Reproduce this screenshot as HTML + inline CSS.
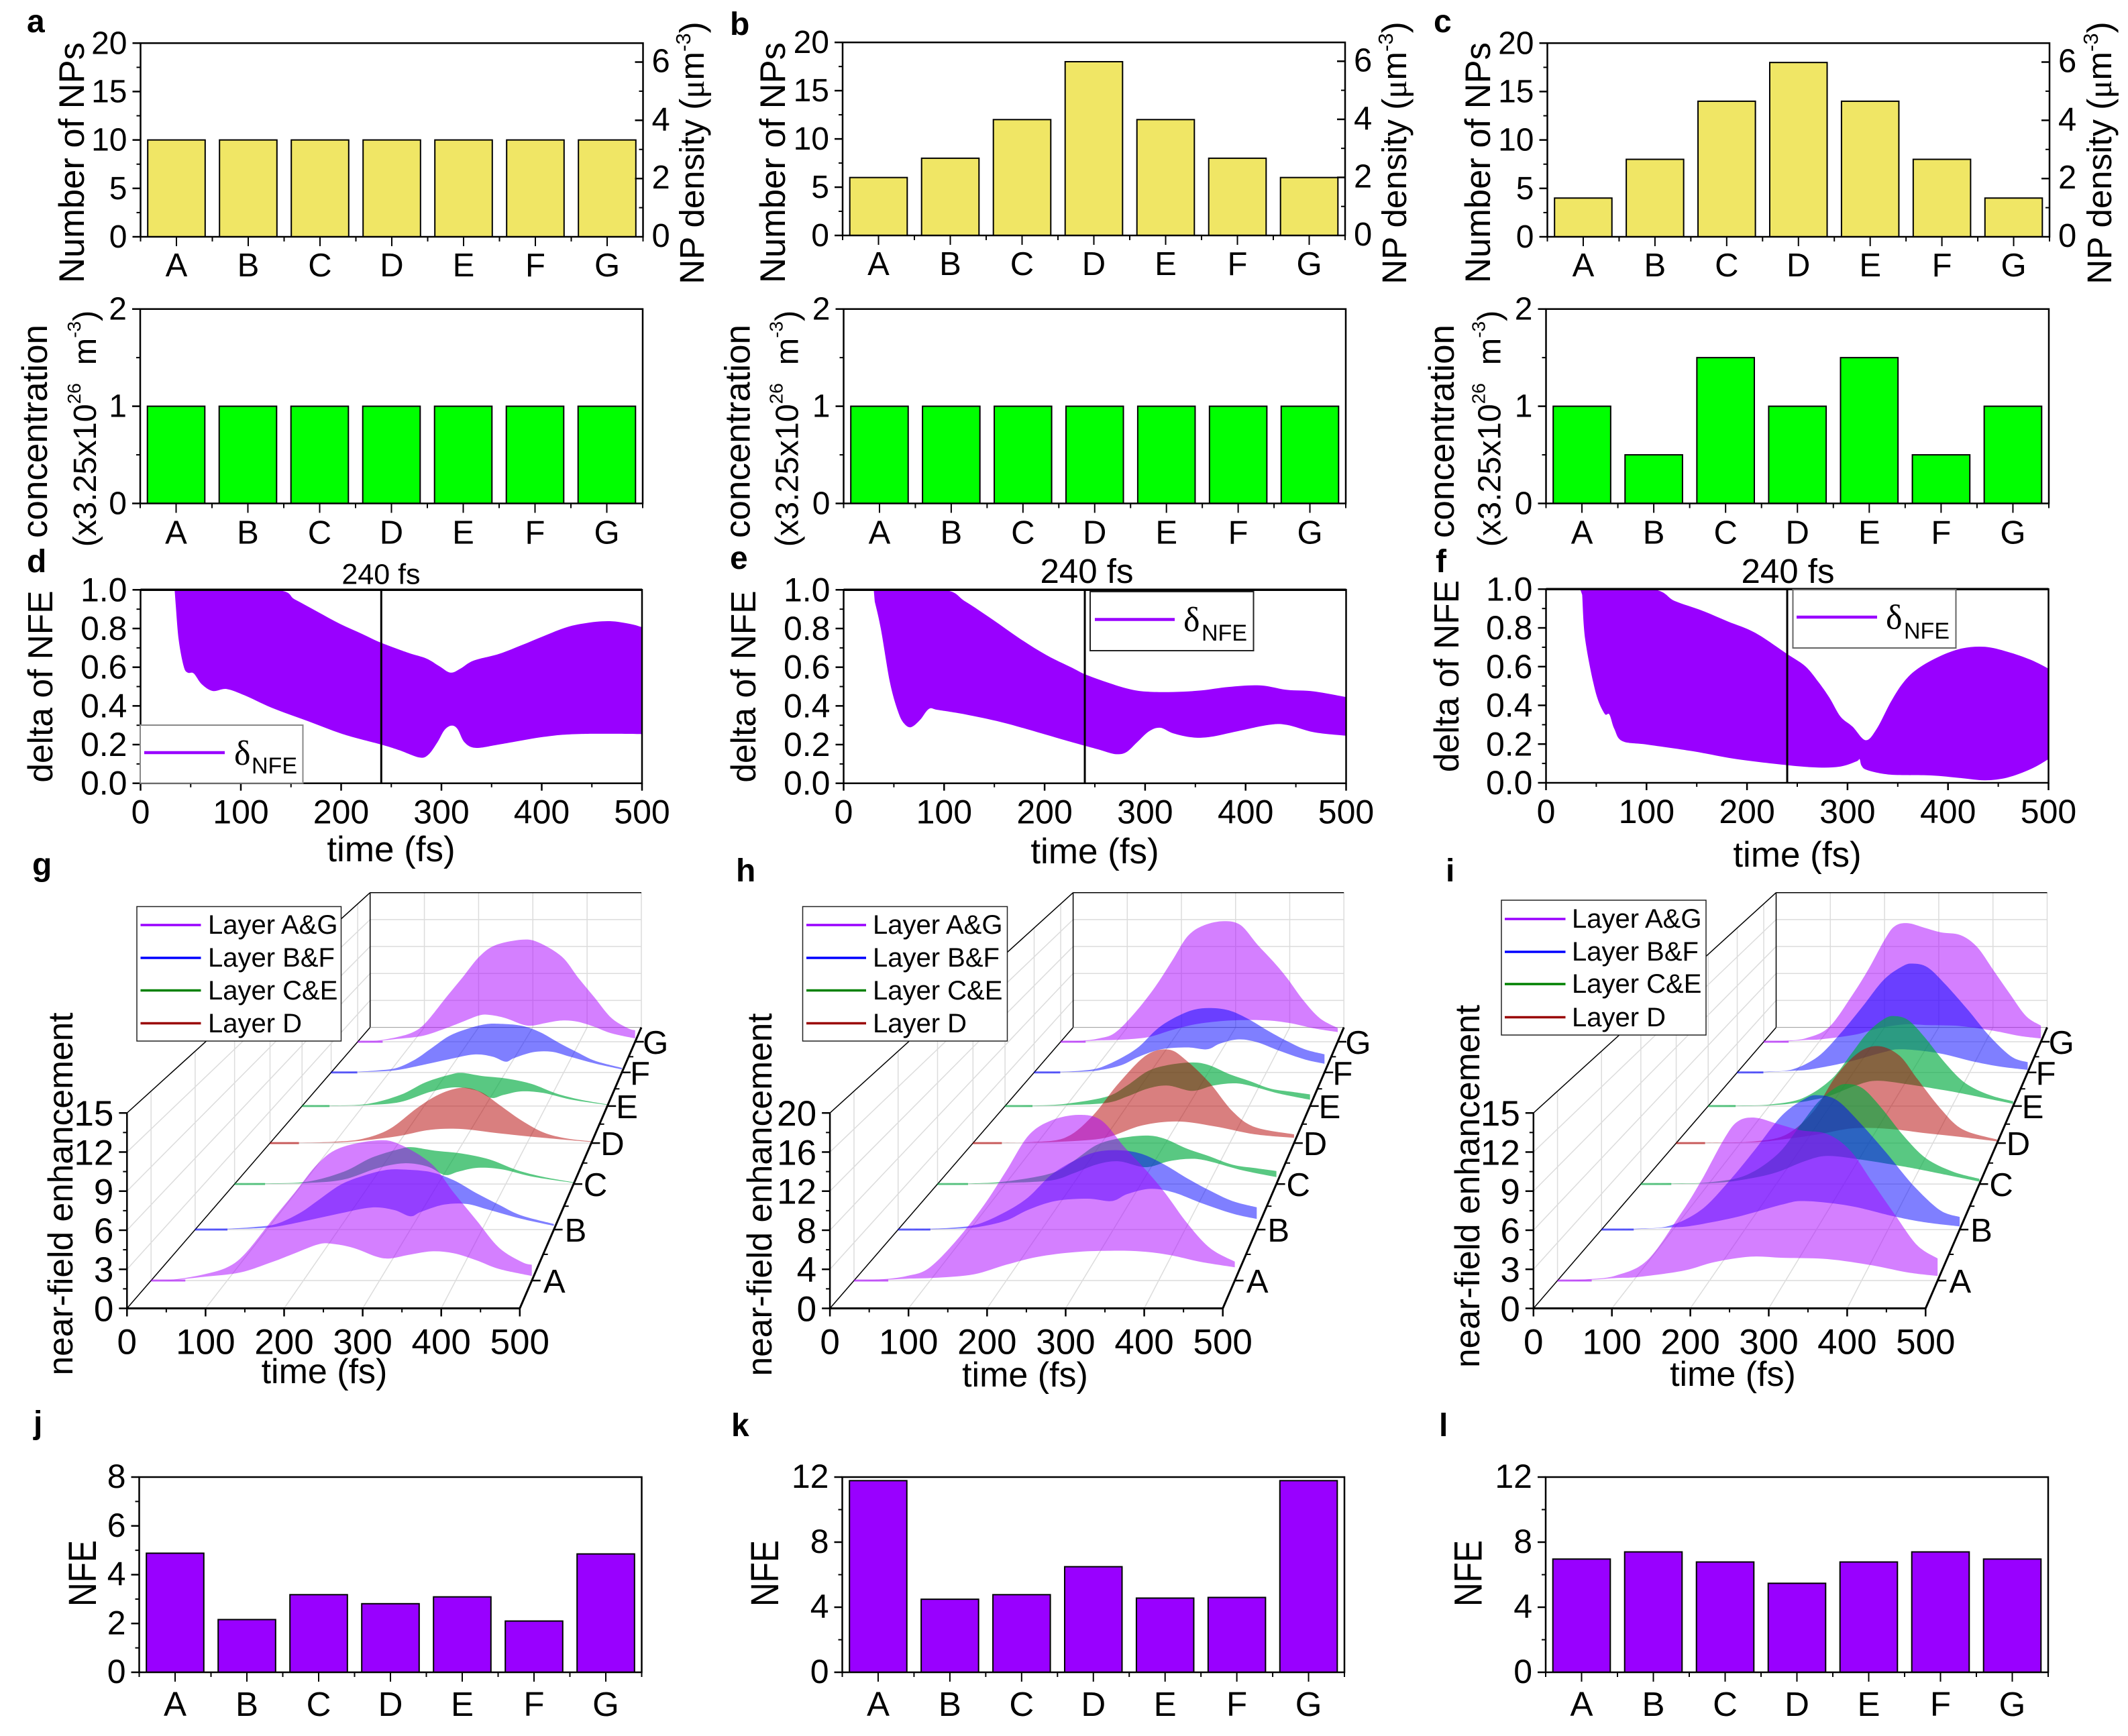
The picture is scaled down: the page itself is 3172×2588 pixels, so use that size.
<!DOCTYPE html>
<html lang="en">
<head>
<meta charset="utf-8">
<title>Nanoparticle layer near-field enhancement figure</title>
<style>
html,body{margin:0;padding:0;background:#fff;overflow:hidden;}
svg{display:block;font-family:"Liberation Sans",sans-serif;fill:#000;}
.serif{font-family:"Liberation Serif",serif;}
</style>
</head>
<body>
<svg id="fig" xmlns="http://www.w3.org/2000/svg" width="3172" height="2588" viewBox="0 0 3172 2588">
<rect width="3172" height="2588" fill="#fff"/>

<!-- panel letters -->
<g font-weight="bold" font-size="48">
<text x="40" y="48">a</text>
<text x="1088" y="52">b</text>
<text x="2137" y="48">c</text>
<text x="40" y="853">d</text>
<text x="1088" y="848">e</text>
<text x="2140" y="853">f</text>
<text x="48" y="1305">g</text>
<text x="1097" y="1314">h</text>
<text x="2155" y="1314">i</text>
<text x="50" y="2137">j</text>
<text x="1090" y="2141">k</text>
<text x="2145" y="2141">l</text>
</g>

<!-- number-of-NPs panels -->
<g id="panel-a">
<text transform="translate(125,242.5) rotate(-90)" font-size="52.5" text-anchor="middle">Number of NPs</text>
<text transform="translate(1049,228) rotate(-90)" font-size="51" text-anchor="middle">NP density (<tspan class="serif">μ</tspan>m<tspan font-size="31" dy="-20">-3</tspan><tspan dy="20">)</tspan></text>
</g>
<g id="panel-b">
<text transform="translate(1170,242.5) rotate(-90)" font-size="52.5" text-anchor="middle">Number of NPs</text>
<text transform="translate(2096,228) rotate(-90)" font-size="51" text-anchor="middle">NP density (<tspan class="serif">μ</tspan>m<tspan font-size="31" dy="-20">-3</tspan><tspan dy="20">)</tspan></text>
</g>
<g id="panel-c">
<text transform="translate(2221,242.5) rotate(-90)" font-size="52.5" text-anchor="middle">Number of NPs</text>
<text transform="translate(3147,228) rotate(-90)" font-size="51" text-anchor="middle">NP density (<tspan class="serif">μ</tspan>m<tspan font-size="31" dy="-20">-3</tspan><tspan dy="20">)</tspan></text>
</g>

<!-- concentration panels -->
<g id="panel-conc-a">
<text transform="translate(70,643) rotate(-90)" font-size="53" text-anchor="middle">concentration</text>
<text transform="translate(143,639) rotate(-90)" font-size="48.5" text-anchor="middle">(x3.25x10<tspan font-size="28" dy="-23">26</tspan><tspan dy="23">&#160;&#160;m</tspan><tspan font-size="28" dy="-23">-3</tspan><tspan dy="23">)</tspan></text>
</g>
<g id="panel-conc-b">
<text transform="translate(1117.5,643) rotate(-90)" font-size="53" text-anchor="middle">concentration</text>
<text transform="translate(1189.5,639) rotate(-90)" font-size="48.5" text-anchor="middle">(x3.25x10<tspan font-size="28" dy="-23">26</tspan><tspan dy="23">&#160;&#160;m</tspan><tspan font-size="28" dy="-23">-3</tspan><tspan dy="23">)</tspan></text>
</g>
<g id="panel-conc-c">
<text transform="translate(2167,643) rotate(-90)" font-size="53" text-anchor="middle">concentration</text>
<text transform="translate(2236.5,639) rotate(-90)" font-size="48.5" text-anchor="middle">(x3.25x10<tspan font-size="28" dy="-23">26</tspan><tspan dy="23">&#160;&#160;m</tspan><tspan font-size="28" dy="-23">-3</tspan><tspan dy="23">)</tspan></text>
</g>

<!-- delta panels -->
<g id="panel-d">
<g id="panel-d-marks"></g>
<text transform="translate(78,1023.5) rotate(-90)" font-size="51.5" text-anchor="middle">delta of NFE</text>
<text x="568" y="870.5" font-size="43" text-anchor="middle">240 fs</text>
<text x="583" y="1284" font-size="53" text-anchor="middle">time (fs)</text>
<g>
<rect x="209" y="1081" width="242.5" height="86.5" fill="#fff" stroke="#888" stroke-width="2"/>
<line x1="215" x2="335" y1="1122" y2="1122" stroke="#9900ff" stroke-width="4.5"/>
<text x="349" y="1140" font-size="52" class="serif">δ</text>
<text x="375" y="1153" font-size="34">NFE</text>
</g>
</g>
<g id="panel-e">
<g id="panel-e-marks"></g>
<text transform="translate(1126,1023.5) rotate(-90)" font-size="51.5" text-anchor="middle">delta of NFE</text>
<text x="1620" y="869" font-size="51" text-anchor="middle">240 fs</text>
<text x="1632" y="1287" font-size="53" text-anchor="middle">time (fs)</text>
<g>
<rect x="1625" y="882" width="243.5" height="88" fill="#fff" stroke="#222" stroke-width="2"/>
<line x1="1632" x2="1751" y1="923.5" y2="923.5" stroke="#9900ff" stroke-width="4.5"/>
<text x="1764" y="941" font-size="52" class="serif">δ</text>
<text x="1791" y="955" font-size="34">NFE</text>
</g>
</g>
<g id="panel-f">
<g id="panel-f-marks"></g>
<text transform="translate(2174,1008) rotate(-90)" font-size="51.5" text-anchor="middle">delta of NFE</text>
<text x="2665" y="869" font-size="51" text-anchor="middle">240 fs</text>
<text x="2679" y="1292" font-size="53" text-anchor="middle">time (fs)</text>
<g>
<rect x="2672.5" y="879" width="243" height="87" fill="#fff" stroke="#666" stroke-width="2"/>
<line x1="2678" x2="2798" y1="920" y2="920" stroke="#9900ff" stroke-width="4.5"/>
<text x="2811" y="937.5" font-size="52" class="serif">δ</text>
<text x="2838" y="952" font-size="34">NFE</text>
</g>
</g>

<!-- 3D panels -->
<g id="panel-g">
<g id="panel-g-marks"></g>
<text transform="translate(108,1780) rotate(-90)" font-size="51.5" text-anchor="middle">near-field enhancement</text>
<text x="483.5" y="2062" font-size="52" text-anchor="middle">time (fs)</text>
<g font-size="40">
<rect x="204" y="1351.5" width="304.5" height="200.5" fill="#fff" stroke="#222" stroke-width="1.5"/>
<line x1="209.5" x2="299.5" y1="1379" y2="1379" stroke="#9900ff" stroke-width="3.5"/>
<text x="310" y="1392">Layer A&amp;G</text>
<line x1="209.5" x2="299.5" y1="1428" y2="1428" stroke="#0000ff" stroke-width="3.5"/>
<text x="310" y="1441">Layer B&amp;F</text>
<line x1="209.5" x2="299.5" y1="1476.5" y2="1476.5" stroke="#008000" stroke-width="3.5"/>
<text x="310" y="1490">Layer C&amp;E</text>
<line x1="209.5" x2="299.5" y1="1525.5" y2="1525.5" stroke="#990000" stroke-width="3.5"/>
<text x="310" y="1539">Layer D</text>
</g>
</g>
<g id="panel-h">
<g id="panel-h-marks"></g>
<text transform="translate(1150,1781) rotate(-90)" font-size="51.5" text-anchor="middle">near-field enhancement</text>
<text x="1528" y="2067" font-size="52" text-anchor="middle">time (fs)</text>
<g font-size="40">
<rect x="1196.5" y="1351.5" width="305" height="200.5" fill="#fff" stroke="#222" stroke-width="1.5"/>
<line x1="1202" x2="1291" y1="1379" y2="1379" stroke="#9900ff" stroke-width="3.5"/>
<text x="1301" y="1392">Layer A&amp;G</text>
<line x1="1202" x2="1291" y1="1428" y2="1428" stroke="#0000ff" stroke-width="3.5"/>
<text x="1301" y="1441">Layer B&amp;F</text>
<line x1="1202" x2="1291" y1="1476.5" y2="1476.5" stroke="#008000" stroke-width="3.5"/>
<text x="1301" y="1490">Layer C&amp;E</text>
<line x1="1202" x2="1291" y1="1525.5" y2="1525.5" stroke="#990000" stroke-width="3.5"/>
<text x="1301" y="1539">Layer D</text>
</g>
</g>
<g id="panel-i">
<g id="panel-i-marks"></g>
<text transform="translate(2205,1768.5) rotate(-90)" font-size="51.5" text-anchor="middle">near-field enhancement</text>
<text x="2583" y="2066" font-size="52" text-anchor="middle">time (fs)</text>
<g font-size="40">
<rect x="2238" y="1342" width="305" height="201" fill="#fff" stroke="#222" stroke-width="1.5"/>
<line x1="2243" x2="2333.5" y1="1370" y2="1370" stroke="#9900ff" stroke-width="3.5"/>
<text x="2343" y="1383">Layer A&amp;G</text>
<line x1="2243" x2="2333.5" y1="1419" y2="1419" stroke="#0000ff" stroke-width="3.5"/>
<text x="2343" y="1432">Layer B&amp;F</text>
<line x1="2243" x2="2333.5" y1="1467" y2="1467" stroke="#008000" stroke-width="3.5"/>
<text x="2343" y="1480">Layer C&amp;E</text>
<line x1="2243" x2="2333.5" y1="1516.5" y2="1516.5" stroke="#990000" stroke-width="3.5"/>
<text x="2343" y="1530">Layer D</text>
</g>
</g>

<!-- NFE panels -->
<g id="panel-j">
<text transform="translate(143,2345.5) rotate(-90)" font-size="58" text-anchor="middle" textLength="99" lengthAdjust="spacingAndGlyphs">NFE</text>
</g>
<g id="panel-k">
<text transform="translate(1160,2345.5) rotate(-90)" font-size="58" text-anchor="middle" textLength="99" lengthAdjust="spacingAndGlyphs">NFE</text>
</g>
<g id="panel-l">
<text transform="translate(2208.5,2345.5) rotate(-90)" font-size="58" text-anchor="middle" textLength="99" lengthAdjust="spacingAndGlyphs">NFE</text>
</g>
</svg>

<script>
/* ---------- bar chart data ---------- */
const categories = ['A','B','C','D','E','F','G'];
const npsA = [10,10,10,10,10,10,10];
const npsB = [6,8,12,18,12,8,6];
const npsC = [4,8,14,18,14,8,4];
const concA = [1,1,1,1,1,1,1];
const concB = [1,1,1,1,1,1,1];
const concC = [1,0.5,1.5,1,1.5,0.5,1];
const nfeJ = [4.88,2.16,3.18,2.81,3.09,2.1,4.85];
const nfeK = [11.78,4.49,4.77,6.49,4.56,4.6,11.78];
const nfeL = [6.96,7.4,6.78,5.47,6.78,7.4,6.96];
const npsTicks = [0,5,10,15,20];
const npsMinorTicks = [2.5,7.5,12.5,17.5];
const densityTicks = [0,2,4,6];
const densityMinorTicks = [1,3,5];
const densityMax = 6.65;
const concTicks = [0,1,2];
const concMinorTicks = [0.5,1.5];
const nfeTicksJ = [0,2,4,6,8];
const nfeMinorTicksJ = [1,3,5,7];
const nfeTicksKL = [0,4,8,12];
const nfeMinorTicksKL = [2,6,10];

/* ---------- delta of NFE envelopes (upper / lower edge of the fast oscillation) ---------- */
const timeTicks = [0,100,200,300,400,500];
const timeMinorTicks = [50,150,250,350,450];
const deltaTicks = [0,0.2,0.4,0.6,0.8,1];
const deltaMinorTicks = [0.1,0.3,0.5,0.7,0.9];
const markerTime = 240;
const dUpperT = [34,133,154,176,199,221,240,267,285,298,309,319,332,357,380,402,425,447,468,488,500];
const dUpperV = [1,1,0.95,0.888,0.824,0.772,0.726,0.674,0.645,0.605,0.572,0.593,0.634,0.668,0.714,0.761,0.807,0.83,0.838,0.824,0.807];
const dLowerT = [35,38,43,47,53,61,72,86,104,131,167,203,240,258,278,287,296,303,310,316,323,334,357,402,438,500];
const dLowerV = [0.928,0.743,0.605,0.572,0.568,0.512,0.477,0.487,0.454,0.39,0.321,0.252,0.2,0.171,0.133,0.148,0.212,0.275,0.298,0.281,0.212,0.183,0.2,0.24,0.255,0.255];
const eUpperT = [30,99,121,148,175,202,229,240,261,283,301,328,356,383,414,441,468,500];
const eUpperV = [1,1,0.94,0.847,0.749,0.662,0.593,0.564,0.524,0.489,0.474,0.472,0.48,0.498,0.506,0.483,0.475,0.446];
const eLowerT = [31,37,46,54,60,67,76,85,94,121,157,193,220,240,256,270,281,292,304,315,328,347,365,392,423,441,468,500];
const eLowerV = [0.94,0.8,0.524,0.373,0.31,0.29,0.327,0.385,0.379,0.356,0.316,0.264,0.223,0.194,0.171,0.151,0.16,0.212,0.269,0.287,0.258,0.237,0.24,0.269,0.302,0.302,0.264,0.246];
const fUpperT = [34,105,128,155,181,208,240,258,271,282,293,305,318,329,343,356,370,392,414,437,459,482,500];
const fUpperV = [1,1,0.939,0.89,0.833,0.775,0.665,0.602,0.521,0.44,0.342,0.29,0.22,0.278,0.417,0.521,0.59,0.654,0.694,0.702,0.677,0.636,0.59];
const fLowerT = [36,39,49,58,63,68,76,101,146,190,240,271,293,309,312,314,320,343,383,414,437,459,482,500];
const fLowerV = [0.971,0.74,0.475,0.359,0.353,0.278,0.215,0.197,0.163,0.122,0.091,0.079,0.084,0.111,0.122,0.088,0.065,0.042,0.038,0.024,0.013,0.027,0.07,0.122];

/* ---------- 3D ribbon data: [time fs, enhancement] ---------- */
const z15Ticks = [0,3,6,9,12,15];
const z15MinorTicks = [1.5,4.5,7.5,10.5,13.5];
const z20Ticks = [0,4,8,12,16,20];
const z20MinorTicks = [2,6,10,14,18];
const gAGUpper = [[30,.08],[70,.5],[100,1.05],[123,2.1],[159,4.8],[189,7],[219,9.25],[248,10.5],[296,11.1],[326,10.8],[368,9.25],[397,7],[427,4.8],[457,2.6],[487,1.47],[500,1.25]];
const gAGLower = [[30,.05],[70,.3],[117,.64],[159,1.47],[189,2.17],[219,2.86],[237,2.92],[266,2.58],[296,1.89],[314,1.75],[338,2.03],[368,2.31],[397,2.17],[427,1.61],[457,.92],[500,.36]];
const gBFUpper = [[40,.06],[82,.22],[113,.47],[145,1.36],[170,2.4],[202,3.75],[233,4.5],[265,5],[290,5.05],[328,4.84],[360,4.16],[391,3.1],[423,2.1],[454,1.2],[500,.47]];
const gBFLower = [[40,.03],[82,.1],[113,.24],[157,.77],[202,1.36],[246,1.86],[277,1.65],[300,1.12],[315,1.5],[347,2.1],[379,2.15],[410,1.65],[454,.92],[500,.32]];
const gCEUpper = [[50,.05],[108,.22],[161,1.1],[202,2.34],[242,3.1],[262,3.28],[295,2.97],[335,2.72],[376,2.19],[416,1.25],[456,.63],[500,.16]];
const gCELower = [[50,.02],[108,.1],[161,.4],[210,1.4],[250,1.85],[285,1.55],[310,.8],[330,1.1],[359,1.45],[395,1.3],[440,.65],[500,.1]];
const gDUpper = [[50,.04],[102,.13],[144,.4],[186,1.32],[229,3.3],[264,4.6],[299,5.2],[328,4.8],[356,3.63],[391,2.14],[426,.99],[462,.43],[500,.16]];
const gDLower = [[50,.02],[102,.05],[144,.23],[200,.66],[250,1.25],[299,1.32],[356,.92],[426,.49],[500,.1]];

const hAGUpper = [[40,.15],[70,.5],[98,1.3],[134,4.2],[170,7.9],[200,11.6],[229,15.3],[259,16.9],[295,17.5],[325,16.9],[355,14.1],[384,11.6],[408,9.3],[438,6],[468,3.4],[500,2]];
const hAGLower = [[40,.08],[70,.2],[110,.3],[158,.67],[200,1.67],[241,2.5],[289,3],[337,3.15],[378,3.07],[414,2.7],[456,1.96],[500,1.4]];
const hBFUpper = [[40,.08],[80,.24],[112,.63],[150,2],[181,3.6],[213,6.1],[245,7.7],[276,8.7],[308,8.9],[339,8.5],[371,7.3],[403,5.75],[434,4.4],[466,3.2],[500,2.5]];
const hBFLower = [[40,.04],[80,.1],[112,.3],[150,1],[181,2.2],[219,3.2],[264,3.46],[298,3.2],[320,4],[352,4.57],[384,4.17],[422,3],[466,1.8],[500,1.2]];
const hCEUpper = [[50,.07],[100,.3],[167,1.25],[200,2.7],[234,4.6],[267,5.4],[307,5.75],[334,5.4],[368,4.2],[401,3.3],[435,2.3],[468,1.9],[500,1.54]];
const hCELower = [[50,.03],[100,.12],[167,.42],[200,1.25],[234,2.3],[267,2.7],[307,2],[341,2.7],[374,3],[401,2.7],[448,1.67],[500,.83]];
const hDUpper = [[50,.04],[86,.1],[143,.66],[185,3.3],[227,7.5],[270,11],[305,11.7],[333,10.3],[369,7.5],[404,4],[439,2],[500,1.1]];
const hDLower = [[50,.02],[86,.05],[143,.2],[206,.66],[263,2.2],[319,2.7],[376,2.1],[439,1.1],[500,.66]];

const iAGUpper = [[40,.1],[77,.4],[118,1.6],[160,5.1],[189,7.9],[219,11.2],[237,12.6],[260,12.9],[290,12.4],[320,11.9],[355,11.6],[385,10.3],[414,7.8],[444,5.2],[473,2.8],[500,1.75]];
const iAGLower = [[40,.05],[77,.2],[106,.28],[166,.78],[207,1.47],[254,1.89],[296,1.8],[355,1.7],[414,1.2],[461,.64],[500,.36]];
const iBFUpper = [[50,.08],[95,.32],[139,1.65],[177,4],[214,6.7],[252,9.6],[284,11],[302,11.3],[328,10.9],[359,9.1],[397,6.5],[434,3.8],[472,1.65],[500,1.06]];
const iBFLower = [[50,.04],[95,.18],[126,.32],[189,1.06],[252,2.1],[283,2.4],[346,2],[409,1.1],[453,.6],[500,.27]];
const iCEUpper = [[50,.05],[102,.16],[155,.78],[202,2.66],[235,5.2],[262,7.3],[288,8.6],[305,8.9],[328,8.5],[355,6.8],[388,4.3],[421,2.3],[461,1.1],[500,.47]];
const iCELower = [[50,.02],[102,.08],[142,.3],[195,.94],[242,2.03],[275,2.5],[322,2.2],[388,1.56],[428,1.1],[500,.22]];
const iDUpper = [[60,.05],[123,.16],[172,.82],[214,3],[249,6.3],[284,8.5],[316,9.1],[348,8.2],[376,6],[411,3.3],[446,1.3],[500,.33]];
const iDLower = [[60,.02],[123,.08],[165,.33],[221,.82],[277,1.4],[334,1.32],[390,.92],[446,.56],[500,.16]];
const tailEndTime = 45;

/* ---------- helpers ---------- */
const SVGNS = 'http://www.w3.org/2000/svg';
const YELLOW = '#f0e665', GREEN = '#00ff00', PURPLE = '#9900ff';
function mk(tag, attrs, parent){
  const e = document.createElementNS(SVGNS, tag);
  for (const k in attrs) e.setAttribute(k, attrs[k]);
  parent.appendChild(e);
  return e;
}
function scaleLinear(d0, d1, r0, r1){ return v => r0 + (v - d0) * (r1 - r0) / (d1 - d0); }
function tickLine(x1, y1, x2, y2, w, parent, name, colour){
  const l = mk('line', {x1:x1, y1:y1, x2:x2, y2:y2, stroke:colour || '#000', 'stroke-width':w}, parent);
  
  
  return l;
}
function tickText(str, x, y, size, anchor, parent, name){
  const t = mk('text', {x:x, y:y, 'font-size':size, 'text-anchor':anchor}, parent);
  t.textContent = str;
  
  
  return t;
}
function frame(box, parent){
  const r = mk('rect', {x:box.L, y:box.T, width:box.R-box.L, height:box.B-box.T, fill:'none', stroke:'#000', 'stroke-width':2.5}, parent);
  
  
}
function spline(pts){
  let d = '';
  for (let i = 0; i < pts.length - 1; i++){
    const p0 = pts[Math.max(i-1,0)], p1 = pts[i], p2 = pts[i+1], p3 = pts[Math.min(i+2,pts.length-1)];
    const c1 = [p1[0]+(p2[0]-p0[0])/6, p1[1]+(p2[1]-p0[1])/6];
    const c2 = [p2[0]-(p3[0]-p1[0])/6, p2[1]-(p3[1]-p1[1])/6];
    d += 'C' + c1[0].toFixed(1)+' '+c1[1].toFixed(1)+' '+c2[0].toFixed(1)+' '+c2[1].toFixed(1)+' '+p2[0].toFixed(1)+' '+p2[1].toFixed(1);
  }
  return d;
}

/* ---------- bar panel ---------- */
function drawBars(parent, box, values, yMax, fill, majors, minors, catSize, catOffset, tickSize){
  const y = scaleLinear(0, yMax, box.B, box.T);
  const band = (box.R - box.L) / categories.length;
  values.forEach((v, i) => {
    const cx = box.L + band * (i + 0.5);
    const b = mk('rect', {x:cx - band*0.4, y:y(v), width:band*0.8, height:box.B - y(v), fill:fill, stroke:'#000', 'stroke-width':2}, parent);
    
    
    tickLine(cx, box.B, cx, box.B + 14, 2, parent, 'x-tick');
    tickText(categories[i], cx, box.B + catOffset, catSize, 'middle', parent, 'x-tick-label');
  });
  for (let i = 0; i <= categories.length; i++){
    const x = box.L + band * i;
    tickLine(x, box.B, x, box.B + 7, 2, parent, 'x-minor-tick');
  }
  majors.forEach(v => {
    tickLine(box.L - 12, y(v), box.L, y(v), 2.5, parent, 'y-tick');
    tickText(String(v), box.L - 20, y(v) + 16, tickSize, 'end', parent, 'y-tick-label');
  });
  minors.forEach(v => tickLine(box.L - 6, y(v), box.L, y(v), 2, parent, 'y-minor-tick'));
  frame(box, parent);
}
function drawDensityAxis(parent, box){
  const y = scaleLinear(0, densityMax, box.B, box.T);
  densityTicks.forEach(v => {
    if (v > 0) tickLine(box.R - 12, y(v), box.R, y(v), 2.5, parent, 'right-axis-tick');
    tickText(String(v), box.R + 13, y(v) + 15, 49, 'start', parent, 'right-axis-tick-label');
  });
  densityMinorTicks.forEach(v => tickLine(box.R - 6, y(v), box.R, y(v), 2, parent, 'right-axis-minor-tick'));
}

/* ---------- delta panel ---------- */
function drawDelta(parent, box, upT, upV, loT, loV, clipId){
  const x = scaleLinear(0, 500, box.L, box.R);
  const y = scaleLinear(0, 1, box.B, box.T);
  const cp = mk('clipPath', {id:clipId}, parent);
  mk('rect', {x:box.L, y:box.T, width:box.R-box.L, height:box.B-box.T}, cp);
  const up = upT.map((t, i) => [x(t), y(upV[i])]);
  const lo = loT.map((t, i) => [x(t), y(loV[i])]).reverse();
  const d = 'M'+up[0][0].toFixed(1)+' '+up[0][1].toFixed(1)+spline(up)+'L'+lo[0][0].toFixed(1)+' '+lo[0][1].toFixed(1)+spline(lo)+'Z';
  const band = mk('path', {d:d, fill:PURPLE, 'clip-path':'url(#'+clipId+')'}, parent);
  
  
  timeTicks.forEach(t => {
    tickLine(x(t), box.B, x(t), box.B + 11, 2.5, parent, 'x-tick');
    tickText(String(t), x(t), box.B + 60, 50, 'middle', parent, 'x-tick-label');
  });
  timeMinorTicks.forEach(t => tickLine(x(t), box.B, x(t), box.B + 6, 2, parent, 'x-minor-tick'));
  deltaTicks.forEach(v => {
    tickLine(box.L - 12, y(v), box.L, y(v), 2.5, parent, 'y-tick');
    tickText(v.toFixed(1), box.L - 20, y(v) + 17, 50, 'end', parent, 'y-tick-label');
  });
  deltaMinorTicks.forEach(v => tickLine(box.L - 6, y(v), box.L, y(v), 2, parent, 'y-minor-tick'));
  frame(box, parent);
  const top = mk('line', {x1:box.L, x2:box.R, y1:box.T, y2:box.T, stroke:'#000', 'stroke-width':3.5}, parent);
  
  
  const m = mk('line', {x1:x(markerTime), x2:x(markerTime), y1:box.T, y2:box.B, stroke:'#000', 'stroke-width':3}, parent);
  
  
}

/* ---------- 3D ribbon panel ---------- */
const PERSPECTIVE = 0.7;
function depthFrac(d){ return d / (d + PERSPECTIVE * (1 - d)); }
function draw3D(parent, geo, zMax, zMajors, zMinors, seriesByLayer){
  const G = geo, frontH = G.yf - G.yzf, backH = G.yb - G.yzb;
  const proj = s => ({
    xl: G.fl + (G.bl - G.fl) * s,
    xr: G.fr + (G.br - G.fr) * s,
    yb: G.yf + (G.yb - G.yf) * s,
    h: frontH + (backH - frontH) * s
  });
  const grid = mk('g', {stroke:'#dcdcdc', 'stroke-width':1.5, fill:'none'}, parent);
  
  
  const gl = (x1,y1,x2,y2) => mk('line',{x1:x1,y1:y1,x2:x2,y2:y2},grid);
  zMajors.forEach(v => {
    const f = G.yf - frontH*v/zMax, b = G.yb - backH*v/zMax;
    if (v > 0 && v < zMax){ gl(G.fl,f,G.bl,b); gl(G.bl,b,G.br,b); }
  });
  timeTicks.forEach(t => {
    const fx = G.fl + (G.fr-G.fl)*t/500, bx = G.bl + (G.br-G.bl)*t/500;
    if (t > 0 && t < 500) gl(fx,G.yf,bx,G.yb);
    if (t > 0) gl(bx,G.yb,bx,G.yzb);
  });
  categories.forEach((c,i) => {
    const p = proj(depthFrac((i+0.5)/7));
    gl(p.xl,p.yb,p.xr,p.yb);
    gl(p.xl,p.yb,p.xl,p.yb-p.h);
  });
  // frame lines
  tickLine(G.fl,G.yf,G.bl,G.yb,1.5,parent,'floor-left-edge');
  tickLine(G.fl,G.yzf,G.bl,G.yzb,1.5,parent,'wall-top-edge');
  tickLine(G.bl,G.yzb,G.br,G.yzb,1.5,parent,'back-wall-top-edge');
  tickLine(G.bl,G.yb,G.bl,G.yzb,1.5,parent,'back-wall-left-edge');
  tickLine(G.bl,G.yb,G.br,G.yb,1,parent,'back-wall-bottom-edge','#999');
  // ribbons back to front
  for (let i = categories.length - 1; i >= 0; i--){
    const p = proj(depthFrac((i+0.5)/7));
    const x = scaleLinear(0, 500, p.xl, p.xr);
    const y = scaleLinear(0, zMax, p.yb, p.yb - p.h);
    const S = seriesByLayer[i];
    const up = [[0,0]].concat(S.upper).map(a => [x(a[0]), y(a[1])]);
    const lo = [[0,0]].concat(S.lower).map(a => [x(a[0]), y(a[1])]).reverse();
    const d = 'M'+up[0][0].toFixed(1)+' '+up[0][1].toFixed(1)+spline(up)+'L'+lo[0][0].toFixed(1)+' '+lo[0][1].toFixed(1)+spline(lo)+'Z';
    const r = mk('path', {d:d, fill:S.fill, 'fill-opacity':S.alpha}, parent);
    
    
    const tail = mk('line', {x1:x(0), y1:y(0), x2:x(tailEndTime), y2:y(0), stroke:S.fill, 'stroke-width':3, 'stroke-opacity':0.6}, parent);
    
    
  }
  // axes
  tickLine(G.fl,G.yf,G.fr,G.yf,3,parent,'x-axis-line');
  tickLine(G.fr,G.yf,G.br,G.yb,3,parent,'layer-axis-line');
  tickLine(G.fl,G.yf,G.fl,G.yzf,2.5,parent,'z-axis-line');
  const xf = scaleLinear(0,500,G.fl,G.fr), zf = scaleLinear(0,zMax,G.yf,G.yzf);
  timeTicks.forEach(t => {
    tickLine(xf(t),G.yf,xf(t),G.yf+12,2.5,parent,'x-tick');
    tickText(String(t),xf(t),G.yf+68,53,'middle',parent,'x-tick-label');
  });
  timeMinorTicks.forEach(t => tickLine(xf(t),G.yf,xf(t),G.yf+6,2,parent,'x-minor-tick'));
  zMajors.forEach(v => {
    tickLine(G.fl-12,zf(v),G.fl,zf(v),2.5,parent,'z-tick');
    tickText(String(v),G.fl-20,zf(v)+19,53,'end',parent,'z-tick-label');
  });
  zMinors.forEach(v => tickLine(G.fl-6,zf(v),G.fl,zf(v),2,parent,'z-minor-tick'));
  categories.forEach((c,i) => {
    const s = depthFrac((i+0.5)/7), p = proj(s);
    tickLine(p.xr,p.yb,p.xr+13,p.yb,2.5,parent,'layer-tick');
    tickText(c,p.xr+18-7*s,p.yb+18,49,'start',parent,'layer-tick-label');
    if (i < categories.length - 1){
      const q = proj(depthFrac((i+1)/7));
      tickLine(q.xr,q.yb,q.xr+7,q.yb,2,parent,'layer-minor-tick');
    }
  });
}
function ribbonSet(ag, agl, bf, bfl, ce, cel, dU, dL){
  const AG = {upper:ag, lower:agl, fill:'#aa00ff', alpha:0.5};
  const BF = {upper:bf, lower:bfl, fill:'#0000ff', alpha:0.5};
  const CE = {upper:ce, lower:cel, fill:'#00aa3f', alpha:0.65};
  const DD = {upper:dU, lower:dL, fill:'#b30000', alpha:0.5};
  return [AG,BF,CE,DD,CE,BF,AG];
}

/* ---------- layout ---------- */
const $ = id => document.getElementById(id);
drawBars($('panel-a'), {L:209.5,R:958.5,T:64.3,B:353}, npsA, 20, YELLOW, npsTicks, npsMinorTicks, 49, 59, 48);
drawDensityAxis($('panel-a'), {L:209.5,R:958.5,T:64.3,B:353});
drawBars($('panel-b'), {L:1256,R:2005,T:63.2,B:351}, npsB, 20, YELLOW, npsTicks, npsMinorTicks, 49, 59, 48);
drawDensityAxis($('panel-b'), {L:1256,R:2005,T:63.2,B:351});
drawBars($('panel-c'), {L:2306.5,R:3055,T:64.3,B:353}, npsC, 20, YELLOW, npsTicks, npsMinorTicks, 49, 59, 48);
drawDensityAxis($('panel-c'), {L:2306.5,R:3055,T:64.3,B:353});

drawBars($('panel-conc-a'), {L:209,R:958,T:460.7,B:750.5}, concA, 2, GREEN, concTicks, concMinorTicks, 49, 60, 48);
drawBars($('panel-conc-b'), {L:1257.5,R:2006,T:460.7,B:750.5}, concB, 2, GREEN, concTicks, concMinorTicks, 49, 60, 48);
drawBars($('panel-conc-c'), {L:2304.5,R:3054,T:460.7,B:750.5}, concC, 2, GREEN, concTicks, concMinorTicks, 49, 60, 48);

drawDelta($('panel-d-marks'), {L:209.5,R:957,T:879.3,B:1167.7}, dUpperT, dUpperV, dLowerT, dLowerV, 'clip-d');
drawDelta($('panel-e-marks'), {L:1257.5,R:2006.5,T:879.3,B:1167.7}, eUpperT, eUpperV, eLowerT, eLowerV, 'clip-e');
drawDelta($('panel-f-marks'), {L:2304.5,R:3053.5,T:878.3,B:1167}, fUpperT, fUpperV, fLowerT, fLowerV, 'clip-f');

const wallY = {yf:1950.5, yzf:1659.2, yb:1531.6, yzb:1330.7};
draw3D($('panel-g-marks'), Object.assign({fl:189.3,fr:774.8,bl:551.7,br:956}, wallY), 15, z15Ticks, z15MinorTicks,
  ribbonSet(gAGUpper,gAGLower,gBFUpper,gBFLower,gCEUpper,gCELower,gDUpper,gDLower));
draw3D($('panel-h-marks'), Object.assign({fl:1237.1,fr:1822.7,bl:1599.6,br:2003.2}, wallY), 20, z20Ticks, z20MinorTicks,
  ribbonSet(hAGUpper,hAGLower,hBFUpper,hBFLower,hCEUpper,hCELower,hDUpper,hDLower));
draw3D($('panel-i-marks'), Object.assign({fl:2285.8,fr:2870.3,bl:2647.5,br:3051.5}, wallY), 15, z15Ticks, z15MinorTicks,
  ribbonSet(iAGUpper,iAGLower,iBFUpper,iBFLower,iCEUpper,iCELower,iDUpper,iDLower));

drawBars($('panel-j'), {L:207.5,R:956.5,T:2202,B:2493}, nfeJ, 8, PURPLE, nfeTicksJ, nfeMinorTicksJ, 51, 65, 50);
drawBars($('panel-k'), {L:1255.5,R:2004,T:2202,B:2493}, nfeK, 12, PURPLE, nfeTicksKL, nfeMinorTicksKL, 51, 65, 50);
drawBars($('panel-l'), {L:2304,R:3053,T:2202,B:2493}, nfeL, 12, PURPLE, nfeTicksKL, nfeMinorTicksKL, 51, 65, 50);
</script>
</body>
</html>
